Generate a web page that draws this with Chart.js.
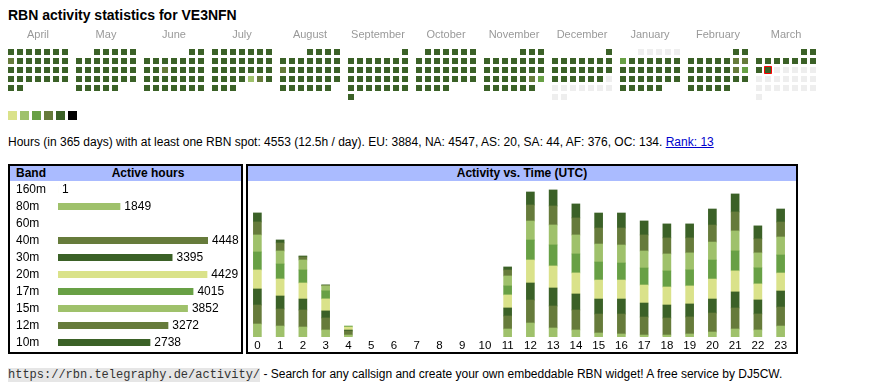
<!DOCTYPE html>
<html>
<head>
<meta charset="utf-8">
<script src="https://cdn.jsdelivr.net/npm/chart.js@4.4.0/dist/chart.umd.min.js"></script>
<style>
    body { margin: 0; background: #fff; font-family: 'Liberation Sans', Arial, sans-serif; color: #000; }
    h1 { position: absolute; left: 8px; top: 7px; margin: 0; font-size: 14px; line-height: 16px; font-weight: bold; }
    .lvl { position: absolute; top: 111px; width: 9px; height: 9px; }
    .info { position: absolute; left: 8px; top: 135px; font-size: 12px; line-height: 14px; white-space: nowrap; }
    .info a { color: #0000cc; }
    .box { position: absolute; top: 164px; height: 190px; border: 2px solid #000; box-sizing: border-box; }
    .head { position: absolute; left: 0; right: 0; top: 0; height: 15px; background: #aabbff; font-size: 12px; font-weight: bold; line-height: 15px; }
    .foot { position: absolute; left: 8px; top: 367px; font-size: 12px; line-height: 15px; white-space: nowrap; }
    .foot code { font-family: 'Liberation Mono', monospace; font-size: 12px; background: #e6e6e6; color: #333; }
    canvas { position: absolute; }
</style>
</head>
<body>
<h1>RBN activity statistics for VE3NFN</h1>
<div id="legend"></div>
<div class="info">Hours (in 365 days) with at least one RBN spot: 4553 (12.5h / day). EU: 3884, NA: 4547, AS: 20, SA: 44, AF: 376, OC: 134. <a href="#">Rank: 13</a></div>

<div class="box" style="left:8px; width:235px;">
    <div class="head"><span style="position:absolute; left:6px;">Band</span><span style="position:absolute; left:45px; right:0; text-align:center;">Active hours</span></div>
</div>
<div class="box" style="left:246px; width:552px;">
    <div class="head" style="text-align:center;">Activity vs. Time (UTC)</div>
</div>

<canvas id="calendar" width="870" height="80" style="left:0; top:25px;"></canvas>
<canvas id="bandChart" width="224" height="170" style="left:16px; top:181px;"></canvas>
<canvas id="timeChart" width="546" height="171" style="left:246px; top:181px;"></canvas>

<div class="foot"><code>https://rbn.telegraphy.de/activity/</code> - Search for any callsign and create your own embeddable RBN widget! A free service by DJ5CW.</div>

<script>
// Calendário (um quadrado por dia)
const calMonths = ['April', 'May', 'June', 'July', 'August', 'September', 'October', 'November', 'December', 'January', 'February', 'March'];
const calStartYear = 2024;
const calStartMonth = 3; // abril, base 0
const lastSpotDay = '2025-03-11';
const levelColors = ['#dae28a', '#9fc16b', '#68a045', '#667b3b', '#3b6127', '#000000'];
const defaultLevel = 4;
const dayLevels = [
    ['2024-04-08', 3], ['2024-06-12', 3], ['2024-07-26', 1], ['2024-07-27', 3],
    ['2024-08-12', 3], ['2024-11-23', 3], ['2024-11-24', 2], ['2025-01-06', 2],
    ['2025-02-08', 3], ['2025-02-09', 3], ['2025-02-15', 3], ['2025-02-16', 2]
];
const silentDays = ['2024-12-22', '2025-01-05']; // sem spots
const emptyColor = '#eeeeee';

// Bandas
const bands = ['160m', '80m', '60m', '40m', '30m', '20m', '17m', '15m', '12m', '10m'];
const bandHours = [1, 1849, 0, 4448, 3395, 4429, 4015, 3852, 3272, 2738];
const bandColors = ['#dae28a', '#9fc16b', '#68a045', '#667b3b', '#3b6127', '#dae28a', '#68a045', '#9fc16b', '#667b3b', '#3b6127'];

// Atividade por hora (UTC)
const hourLabels = ['0', '1', '2', '3', '4', '5', '6', '7', '8', '9', '10', '11', '12', '13', '14', '15', '16', '17', '18', '19', '20', '21', '22', '23'];
const h80 = [185, 156, 142, 100, 28, 0, 0, 0, 0, 0, 0, 114, 199, 128, 100, 57, 43, 28, 28, 43, 71, 114, 100, 156];
const h40 = [270, 242, 242, 171, 57, 0, 0, 0, 0, 0, 0, 185, 327, 313, 284, 270, 284, 256, 242, 242, 270, 299, 228, 270];
const h30 = [228, 185, 156, 100, 14, 0, 0, 0, 0, 0, 0, 114, 242, 256, 228, 213, 213, 199, 185, 185, 199, 228, 199, 228];
const h20 = [270, 242, 228, 171, 43, 0, 0, 0, 0, 0, 0, 185, 327, 313, 299, 270, 270, 256, 256, 256, 284, 299, 228, 256];
const h17 = [256, 213, 185, 114, 14, 0, 0, 0, 0, 0, 0, 128, 284, 299, 270, 256, 242, 242, 228, 228, 270, 284, 228, 256];
const h15 = [242, 185, 142, 71, 0, 0, 0, 0, 0, 0, 0, 142, 270, 284, 270, 256, 256, 242, 242, 242, 256, 284, 213, 256];
const h12 = [185, 114, 43, 9, 0, 0, 0, 0, 0, 0, 0, 85, 228, 270, 242, 228, 242, 228, 228, 213, 242, 270, 199, 213];
const h10 = [128, 43, 14, 5, 0, 0, 0, 0, 0, 0, 0, 43, 185, 228, 199, 213, 213, 199, 199, 199, 228, 256, 185, 185];

Chart.defaults.font.family = "'Liberation Sans', Arial, sans-serif";
Chart.defaults.color = '#000';
Chart.defaults.animation = false;
Chart.defaults.events = [];
Chart.defaults.plugins.legend.display = false;
Chart.defaults.plugins.tooltip.enabled = false;

// Zerar o padding automático dos rótulos
function noLabelPadding(s) {
    s.paddingLeft = 0;
    s.paddingRight = 0;
    s.paddingTop = 0;
    s.paddingBottom = 0;
}

// Legenda dos níveis
document.getElementById('legend').innerHTML = levelColors.map((c, i) =>
    `<span class="lvl" style="left:${8 + 12 * i}px; background:${c};"></span>`).join('');

// Montar os dias do calendário
function buildCalendar() {
    const levels = Object.fromEntries(dayLevels);
    const cells = [], colors = [], radii = [], borders = [], widths = [];
    for (let m = 0; m < 12; m++) {
        const year = calStartYear + Math.floor((calStartMonth + m) / 12);
        const month = (calStartMonth + m) % 12;
        const first = (new Date(Date.UTC(year, month, 1)).getUTCDay() + 6) % 7;
        const days = new Date(Date.UTC(year, month + 1, 0)).getUTCDate();
        for (let d = 1; d <= days; d++) {
            const iso = new Date(Date.UTC(year, month, d)).toISOString().slice(0, 10);
            const dow = (first + d - 1) % 7;
            const week = Math.floor((first + d - 1) / 7);
            cells.push({ x: m * 68 / 9 + dow, y: week });
            let color = levelColors[levels[iso] !== undefined ? levels[iso] : defaultLevel];
            if (iso > lastSpotDay || (iso >= silentDays[0] && iso <= silentDays[1])) color = emptyColor;
            colors.push(color);
            const today = iso === lastSpotDay;
            radii.push(today ? 4.95 : 4.2426);
            borders.push(today ? '#ff0000' : color);
            widths.push(today ? 1 : 0);
        }
    }
    return { cells, colors, radii, borders, widths };
}

function initializeCalendar() {
    const cal = buildCalendar();
    new Chart(document.getElementById('calendar'), {
        type: 'scatter',
        data: {
            datasets: [{
                data: cal.cells,
                pointStyle: 'rect',
                pointRadius: cal.radii,
                pointBackgroundColor: cal.colors,
                pointBorderColor: cal.borders,
                pointBorderWidth: cal.widths,
                clip: false
            }]
        },
        options: {
            responsive: false,
            layout: { padding: 0, autoPadding: false },
            scales: {
                x: {
                    type: 'linear',
                    position: 'top',
                    min: -11 / 9,
                    max: (870 - 11) / 9,
                    afterBuildTicks: (s) => { s.ticks = calMonths.map((m, i) => ({ value: i * 68 / 9 + 3 })); },
                    afterFit: (s) => { s.height = 19; noLabelPadding(s); },
                    ticks: {
                        callback: (v, i) => calMonths[i],
                        color: '#999',
                        font: { size: 11 },
                        padding: 2,
                        autoSkip: false,
                        maxRotation: 0
                    },
                    grid: { display: false, drawTicks: false },
                    border: { display: false }
                },
                y: {
                    display: false,
                    reverse: true,
                    min: -8 / 9,
                    max: -8 / 9 + 61 / 9
                }
            }
        }
    });
}

// Rótulos de valor ao lado das barras
const valueLabels = {
    id: 'valueLabels',
    afterDatasetsDraw(chart) {
        const ctx = chart.ctx;
        const meta = chart.getDatasetMeta(0);
        ctx.save();
        ctx.font = "12px 'Liberation Sans', Arial, sans-serif";
        ctx.fillStyle = '#000';
        ctx.textBaseline = 'middle';
        meta.data.forEach((bar, i) => {
            if (bandHours[i] > 0) ctx.fillText(bandHours[i], bar.x + 4, bar.y);
        });
        ctx.restore();
    }
};

function initializeBandChart() {
    new Chart(document.getElementById('bandChart'), {
        type: 'bar',
        data: {
            labels: bands,
            datasets: [{ data: bandHours, backgroundColor: bandColors, barThickness: 7, inflateAmount: 0 }]
        },
        options: {
            indexAxis: 'y',
            responsive: false,
            layout: { padding: 0 },
            scales: {
                x: { display: false, min: 0, max: 4448 * 182 / 150 },
                y: {
                    ticks: { crossAlign: 'far', color: '#000', font: { size: 12 }, padding: 0, autoSkip: false },
                    grid: { display: false, drawTicks: false },
                    border: { display: false },
                    afterFit: (s) => { s.width = 42; noLabelPadding(s); }
                }
            }
        },
        plugins: [valueLabels]
    });
}

function initializeTimeChart() {
    const series = [
        ['80m', h80, '#9fc16b'], ['40m', h40, '#667b3b'], ['30m', h30, '#3b6127'], ['20m', h20, '#dae28a'],
        ['17m', h17, '#68a045'], ['15m', h15, '#9fc16b'], ['12m', h12, '#667b3b'], ['10m', h10, '#3b6127']
    ];
    new Chart(document.getElementById('timeChart'), {
        type: 'bar',
        data: {
            labels: hourLabels,
            datasets: series.map(([label, data, color]) => ({
                label,
                data: data.map(v => v || null),
                backgroundColor: color,
                barThickness: 8
            }))
        },
        options: {
            responsive: false,
            layout: { padding: 0 },
            scales: {
                x: {
                    stacked: true,
                    ticks: { color: '#000', font: { size: 11.5 }, padding: 2, autoSkip: false, maxRotation: 0 },
                    grid: { display: false, drawTicks: false },
                    border: { display: false },
                    afterFit: (s) => { s.height = 15; }
                },
                y: { display: false, stacked: true, min: 0, max: 2218 }
            }
        }
    });
}

initializeCalendar();
initializeBandChart();
initializeTimeChart();
</script>
</body>
</html>
